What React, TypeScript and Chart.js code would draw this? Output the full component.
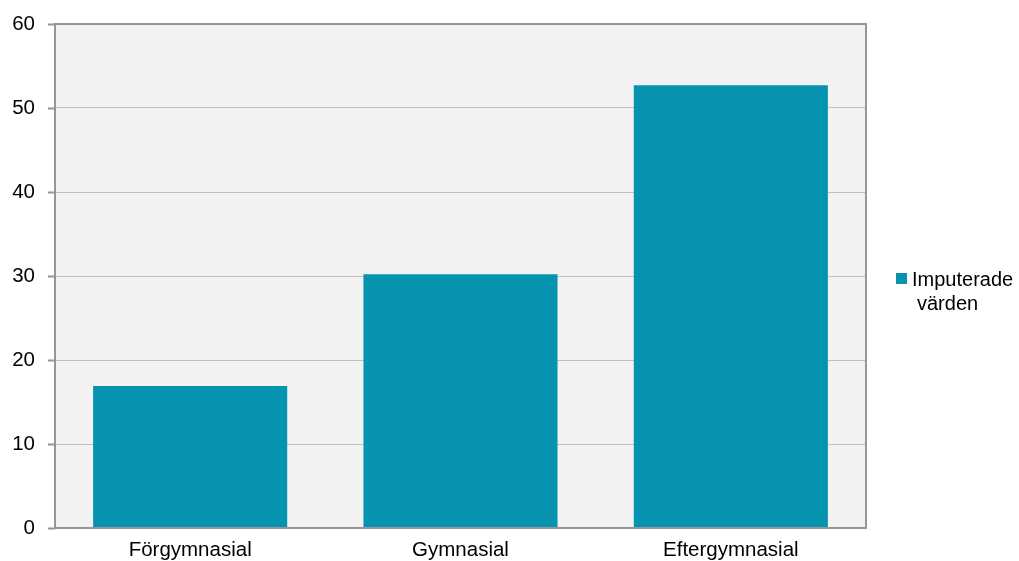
import React, { useEffect, useRef } from "react";
import { Chart, registerables } from "chart.js";

Chart.register(...registerables);

const categories = ["Förgymnasial", "Gymnasial", "Eftergymnasial"];
const seriesLabel = "Imputerade värden";
const legendLines = ["Imputerade", "värden"];
const values = [16.9, 30.2, 52.7];
const yTicks = [0, 10, 20, 30, 40, 50, 60];

const BAR = "#0593B0";
const FONT = "'Liberation Sans', Arial, sans-serif";

const framePlugin = {
  id: "frame",
  beforeDraw(chart: any) {
    const { ctx, chartArea: a } = chart;
    ctx.save();
    ctx.fillStyle = "#f2f2f2";
    ctx.fillRect(a.left, a.top, a.right - a.left, a.bottom - a.top);
    ctx.restore();
  },
  afterDraw(chart: any) {
    const { ctx, chartArea: a } = chart;
    ctx.save();
    ctx.strokeStyle = "#969696";
    ctx.lineWidth = 2;
    ctx.strokeRect(a.left, a.top, a.right - a.left, a.bottom - a.top);
    // y tick marks
    const ys = chart.scales.y;
    ctx.beginPath();
    for (const t of yTicks) {
      const py = Math.round(ys.getPixelForValue(t)) + 0.5;
      ctx.moveTo(a.left - 7, py);
      ctx.lineTo(a.left, py);
    }
    ctx.lineWidth = 2;
    ctx.stroke();
    // legend
    ctx.fillStyle = BAR;
    ctx.fillRect(896, 273, 11, 11);
    ctx.fillStyle = "#000";
    ctx.font = `20px ${FONT}`;
    ctx.textBaseline = "alphabetic";
    ctx.textAlign = "left";
    ctx.fillText(legendLines[0], 912, 286);
    ctx.fillText(legendLines[1], 917, 310);
    ctx.restore();
  },
};

export default function App() {
  const ref = useRef<HTMLCanvasElement>(null);
  useEffect(() => {
    if (!ref.current) return;
    const chart = new Chart(ref.current, {
      type: "bar",
      data: {
        labels: categories,
        datasets: [
          {
            label: seriesLabel,
            data: values,
            backgroundColor: BAR,
            borderWidth: 0,
            barPercentage: 0.718,
            categoryPercentage: 1,
          },
        ],
      },
      options: {
        animation: false,
        responsive: false,
        maintainAspectRatio: false,
        layout: { padding: { top: 24, right: 153, left: 0, bottom: 0 } },
        plugins: { legend: { display: false }, tooltip: { enabled: false } },
        scales: {
          x: {
            grid: { display: false, drawTicks: false },
            border: { display: false },
            ticks: { color: "#000", font: { family: FONT, size: 20.5 }, padding: 10 },
            afterFit(s: any) {
              s.height = 33;
              s.paddingLeft = 0;
              s.paddingRight = 0;
            },
          },
          y: {
            min: 0,
            max: 60,
            ticks: {
              stepSize: 10,
              color: "#000",
              font: { family: FONT, size: 20.5 },
              padding: 20,
            },
            grid: { color: "#c0c0c0", lineWidth: 1, drawTicks: false },
            border: { display: false },
            afterFit(s: any) {
              s.width = 55;
              s.paddingTop = 0;
              s.paddingBottom = 0;
            },
          },
        },
      },
      plugins: [framePlugin],
    });
    return () => chart.destroy();
  }, []);
  return (
    <div style={{ position: "fixed", left: 0, top: 0, width: 1019, height: 561, background: "#fff" }}>
      <canvas ref={ref} width={1019} height={561} style={{ display: "block" }} />
    </div>
  );
}
